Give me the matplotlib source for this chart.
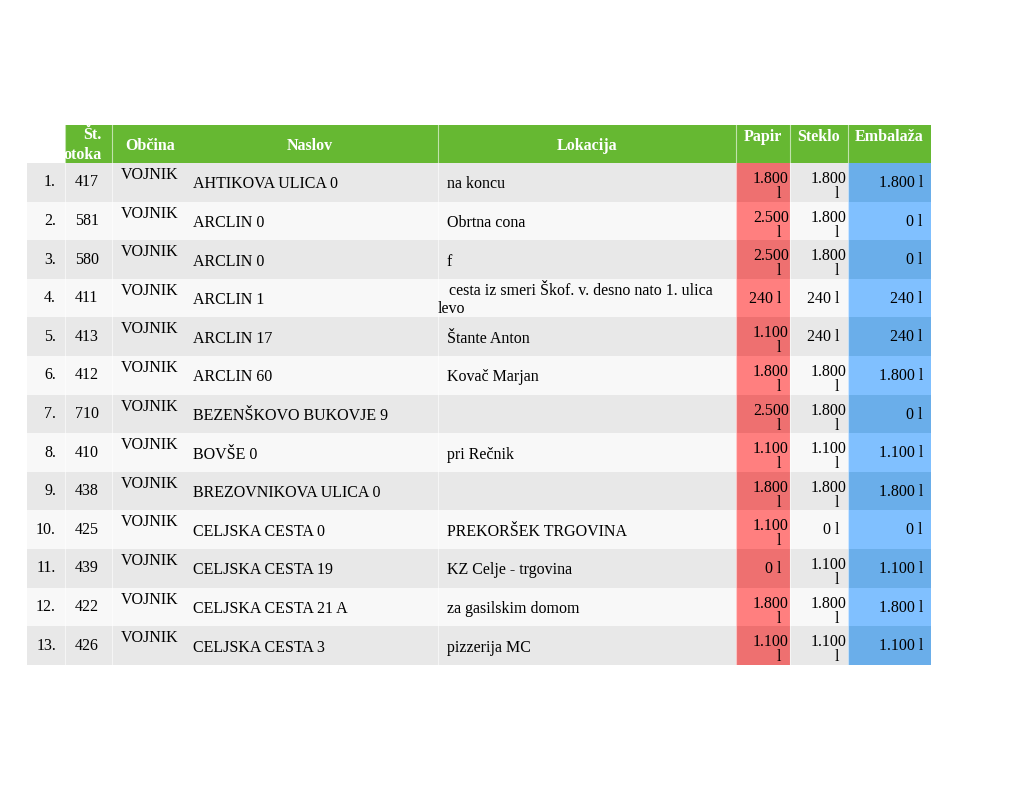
import matplotlib.pyplot as plt
from matplotlib.patches import Rectangle

plt.rcParams["font.family"] = ["Liberation Serif", "DejaVu Serif"]

# table data
row_no = ["1.", "2.", "3.", "4.", "5.", "6.", "7.", "8.", "9.", "10.", "11.", "12.", "13."]
otok = ["417", "581", "580", "411", "413", "412", "710", "410", "438", "425", "439", "422", "426"]
obcina = ["VOJNIK"] * 13
naslov = [
    "AHTIKOVA ULICA 0", "ARCLIN 0", "ARCLIN 0", "ARCLIN 1", "ARCLIN 17", "ARCLIN 60",
    "BEZENŠKOVO BUKOVJE 9", "BOVŠE 0", "BREZOVNIKOVA ULICA 0", "CELJSKA CESTA 0",
    "CELJSKA CESTA 19", "CELJSKA CESTA 21 A", "CELJSKA CESTA 3",
]
lokacija = [
    "na koncu", "Obrtna cona", "f", "cesta iz smeri Škof. v. desno nato 1. ulica\nlevo",
    "Štante Anton", "Kovač Marjan", "", "pri Rečnik", "", "PREKORŠEK TRGOVINA",
    "KZ Celje - trgovina", "za gasilskim domom", "pizzerija MC",
]
papir = ["1.800", "2.500", "2.500", "240", "1.100", "1.800", "2.500", "1.100", "1.800", "1.100", "0", "1.800", "1.100"]
steklo = ["1.800", "1.800", "1.800", "240", "240", "1.800", "1.800", "1.100", "1.800", "0", "1.100", "1.800", "1.100"]
embalaza = ["1.800", "0", "0", "240", "240", "1.800", "0", "1.100", "1.800", "0", "1.100", "1.800", "1.100"]

# layout (pixel coords)
x_left, x_right = 27, 931
col_edges = [27, 65, 112, 438, 736, 790, 848, 931]
head_top, head_bot = 125, 163
row_h = 38.6

GREEN = "#66b832"
ROW_BG = ["#e8e8e8", "#f8f8f8"]
PAPIR_BG = ["#ee7070", "#ff7f7f"]
EMB_BG = ["#6aaeea", "#80c0ff"]
FS = 11.5

fig = plt.figure(figsize=(10.2, 7.88), dpi=100)
ax = fig.add_axes([0, 0, 1, 1])
ax.set_xlim(0, 1020)
ax.set_ylim(788, 0)
ax.axis("off")

# header
ax.add_patch(Rectangle((65, head_top), x_right - 65, head_bot - head_top, color=GREEN, lw=0))
hdr = dict(color="white", fontsize=FS, fontweight="bold")
ax.text(102, 135, "Št.", ha="right", va="center", **hdr)
ax.text(102, 155, "otoka", ha="right", va="center", **hdr)
ax.text(125, 146, "Občina", ha="left", va="center", **hdr)
ax.text(310, 146, "Naslov", ha="center", va="center", **hdr)
ax.text(587, 146, "Lokacija", ha="center", va="center", **hdr)
ax.text(763, 137, "Papir", ha="center", va="center", **hdr)
ax.text(819, 137, "Steklo", ha="center", va="center", **hdr)
ax.text(889, 137, "Embalaža", ha="center", va="center", **hdr)


def value_cell(val, right, y0):
    if len(val) > 3 and right < 850:
        # narrow column: "l" wraps to the next line
        ax.text(right - 1, y0 + 16, val, ha="right", va="center", fontsize=FS)
        ax.text(right - 9, y0 + 31, "l", ha="right", va="center", fontsize=FS)
    else:
        ax.text(right - 8, y0 + 20, val + " l", ha="right", va="center", fontsize=FS)


for i in range(len(row_no)):
    y0 = head_bot + i * row_h
    yc = y0 + row_h / 2
    k = i % 2
    ax.add_patch(Rectangle((x_left, y0), x_right - x_left, row_h, color=ROW_BG[k], lw=0))
    ax.add_patch(Rectangle((736, y0), 790 - 736, row_h, color=PAPIR_BG[k], lw=0))
    ax.add_patch(Rectangle((848, y0), 931 - 848, row_h, color=EMB_BG[k], lw=0))

    ax.text(56, yc, row_no[i], ha="right", va="center", fontsize=FS)
    ax.text(75, yc, otok[i], ha="left", va="center", fontsize=FS)
    ax.text(121, y0 + 12, obcina[i], ha="left", va="center", fontsize=FS)
    ax.text(193, yc + 2, naslov[i], ha="left", va="center", fontsize=FS)
    if "\n" in lokacija[i]:
        l1, l2 = lokacija[i].split("\n")
        ax.text(449, y0 + 12, l1, ha="left", va="center", fontsize=FS)
        ax.text(438, y0 + 30, l2, ha="left", va="center", fontsize=FS)
    else:
        ax.text(447, yc + 2, lokacija[i], ha="left", va="center", fontsize=FS)

    value_cell(papir[i], 790, y0)
    value_cell(steklo[i], 848, y0)
    value_cell(embalaza[i], 931, y0)

# thin white cell separators
bottom = head_bot + len(row_no) * row_h
for x in col_edges[1:-1]:
    ax.plot([x, x], [head_top, bottom], color="white", lw=0.8, alpha=0.6)

fig.savefig("out.png", dpi=100)
